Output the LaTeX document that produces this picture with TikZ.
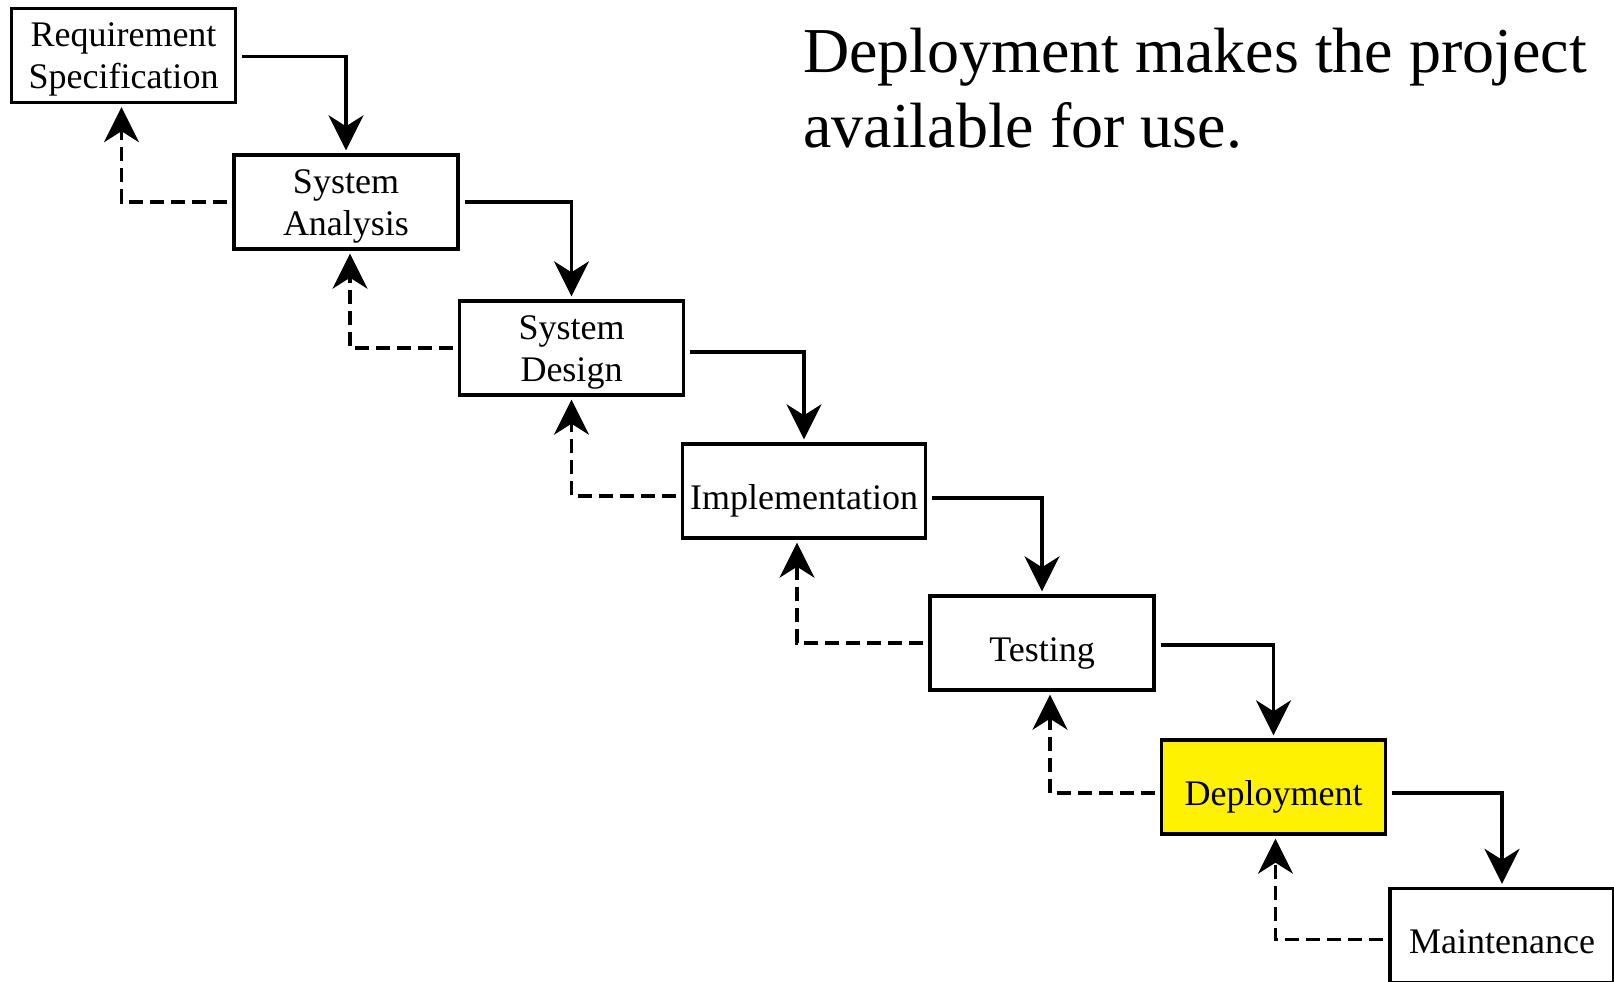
\documentclass[tikz,border=0pt]{standalone}
\usepackage{fontspec}
\setmainfont{Liberation Serif}
\usetikzlibrary{arrows.meta}
\begin{document}
\begin{tikzpicture}[x=1pt,y=-1pt,
  phase/.style={draw, line width=3.4pt, minimum width=224pt, minimum height=94pt,
    inner sep=0pt, align=center, font=\fontsize{36}{42}\selectfont,
    text height=36pt, text depth=0pt},
  twoline/.style={text height=66pt},
  flow/.style={line width=3.4pt, -{Stealth[length=35pt,width=35pt,inset=11pt]},
    shorten <=5pt, shorten >=3pt},
  back/.style={flow, dash pattern=on 14pt off 7pt}]
% page frame
\useasboundingbox (0,0) rectangle (1614,982);
\clip (0,0) rectangle (1614,982);

% waterfall phases
\node[phase, twoline] (req) at (123.5,55.5) {Requirement\\Specification};
\node[phase, twoline] (ana) at (346,202)    {System\\Analysis};
\node[phase, twoline] (des) at (571.5,348)  {System\\Design};
\node[phase, minimum width=243pt] (imp) at (804,491) {Implementation};
\node[phase] (tst)   at (1042,643)   {Testing};
\node[phase, fill=yellow] (dep) at (1273.5,787) {Deployment};
\node[phase] (mnt)   at (1502,935.5) {Maintenance};

% caption (base anchor sits on the last line)
\node[anchor=base west, align=left, inner sep=0pt,
      font=\fontsize{64}{75}\selectfont] (note) at (803,147)
  {Deployment makes the project\\available for use.};

% forward flow
\draw[flow] ([yshift=-1pt]req.east) -| (ana.north);
\draw[flow] (ana.east) -| (des.north);
\draw[flow] ([yshift=-4pt]des.east) -| (imp.north);
\draw[flow] ([yshift=-7pt]imp.east) -| (tst.north);
\draw[flow] ([yshift=-2pt]tst.east) -| (dep.north);
\draw[flow] ([yshift=-6pt]dep.east) -| (mnt.north);

% feedback flow
\draw[back] (ana.west) -| ([xshift=-2pt]req.south);
\draw[back] (des.west) -| ([xshift=4pt]ana.south);
\draw[back] ([yshift=-5pt]imp.west) -| (des.south);
\draw[back] (tst.west) -| ([xshift=-7pt]imp.south);
\draw[back] ([yshift=-6pt]dep.west) -| ([xshift=8pt]tst.south);
\draw[back] ([yshift=-4pt]mnt.west) -| ([xshift=2pt]dep.south);
\end{tikzpicture}
\end{document}
